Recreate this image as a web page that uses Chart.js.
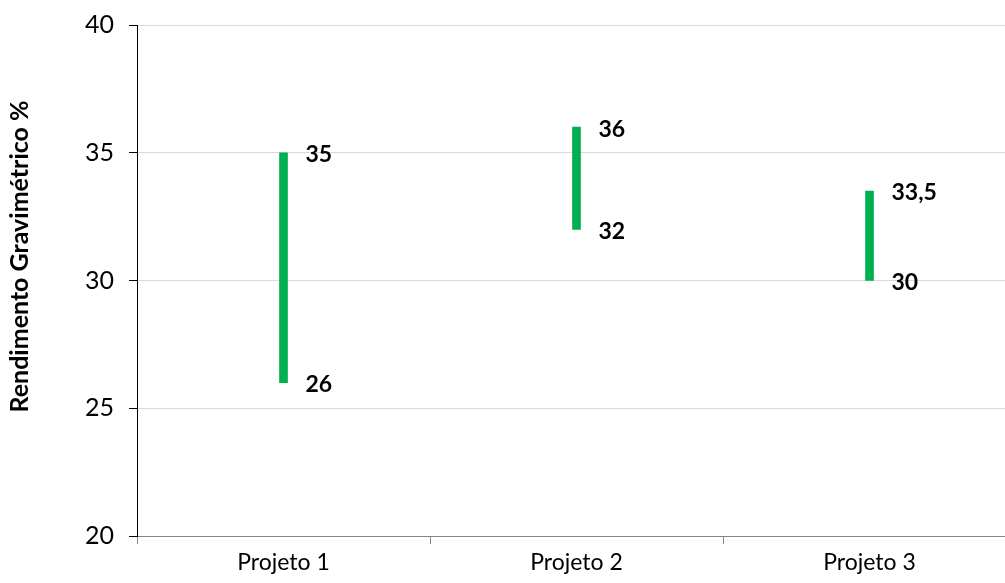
<!DOCTYPE html>
<html>
<head>
<meta charset="utf-8">
<script src="https://cdn.jsdelivr.net/npm/chart.js@4/dist/chart.umd.min.js"></script>
<style>
  html, body { margin: 0; padding: 0; background: #fff; overflow: hidden; }
  #wrap { width: 1040px; height: 583px; position: relative; }
</style>
</head>
<body>
<div id="wrap"><canvas id="c"></canvas></div>
<script>
const categories = ['Projeto 1', 'Projeto 2', 'Projeto 3'];
const lows = [26, 32, 30];
const highs = [35, 36, 33.5];
const yTicks = [20, 25, 30, 35, 40];
const yTitle = 'Rendimento Gravimétrico %';

const FONT = 'Lato, "Open Sans", sans-serif';

const fmt = v => String(v).replace('.', ',');

const rangeLabels = {
  id: 'rangeLabels',
  afterDatasetsDraw(chart) {
    const ctx = chart.ctx;
    const meta = chart.getDatasetMeta(0);
    const ys = chart.scales.y;
    ctx.save();
    ctx.font = 'bold 23px ' + FONT;
    ctx.fillStyle = '#000';
    ctx.textAlign = 'left';
    ctx.textBaseline = 'middle';
    meta.data.forEach((bar, i) => {
      const x = bar.x + 22;
      ctx.fillText(fmt(highs[i]), x, ys.getPixelForValue(highs[i]) + 2);
      ctx.fillText(fmt(lows[i]), x, ys.getPixelForValue(lows[i]) + 2);
    });
    ctx.restore();
  }
};

const yAxisTitle = {
  id: 'yAxisTitle',
  afterDraw(chart) {
    const ctx = chart.ctx;
    const a = chart.chartArea;
    ctx.save();
    ctx.translate(20, (a.top + a.bottom) / 2 - 24);
    ctx.rotate(-Math.PI / 2);
    ctx.font = 'bold 25px ' + FONT;
    ctx.fillStyle = '#000';
    ctx.textAlign = 'center';
    ctx.textBaseline = 'middle';
    ctx.fillText(yTitle, 0, 0);
    ctx.restore();
  }
};

new Chart(document.getElementById('c'), {
  type: 'bar',
  data: {
    labels: categories,
    datasets: [{
      data: lows.map((l, i) => [l, highs[i]]),
      backgroundColor: '#00b050',
      borderWidth: 0,
      barThickness: 8
    }]
  },
  options: {
    responsive: true,
    maintainAspectRatio: false,
    animation: false,
    layout: { padding: { top: 25, right: 24, bottom: 0, left: 0 } },
    plugins: { legend: { display: false }, tooltip: { enabled: false } },
    scales: {
      x: {
        grid: { offset: true, drawOnChartArea: false, tickLength: 8, color: '#868686', lineWidth: 1 },
        border: { color: '#868686', width: 1 },
        ticks: { color: '#000', font: { family: FONT, size: 23 }, padding: 5 },
        afterFit(s) { s.height = 47; s.paddingLeft = 0; s.paddingRight = 0; }
      },
      y: {
        min: 20, max: 40,
        afterBuildTicks(s) { s.ticks = yTicks.map(v => ({ value: v })); },
        grid: { color: '#d9d9d9', tickLength: 8, tickColor: '#000', lineWidth: 1 },
        border: { color: '#000', width: 1 },
        ticks: { color: '#000', font: { family: FONT, size: 25 }, padding: 15 },
        afterFit(s) { s.width = 137; s.paddingTop = 0; s.paddingBottom = 0; }
      }
    }
  },
  plugins: [rangeLabels, yAxisTitle]
});
</script>
</body>
</html>
